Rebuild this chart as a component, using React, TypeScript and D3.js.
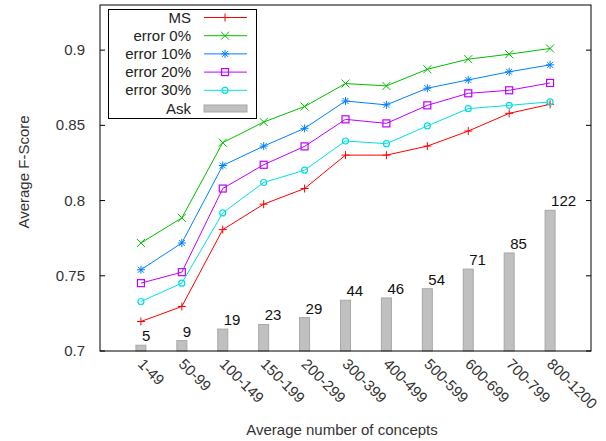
import React from "react";
import { scaleLinear, scalePoint, line } from "d3";

const categories = ["1-49", "50-99", "100-149", "150-199", "200-299", "300-399", "400-499", "500-599", "600-699", "700-799", "800-1200"];
const askCounts = [5, 9, 19, 23, 29, 44, 46, 54, 71, 85, 122];
const ms = [0.7196, 0.7296, 0.7807, 0.7976, 0.808, 0.8302, 0.8302, 0.8362, 0.8462, 0.858, 0.864];
const err0 = [0.7718, 0.7885, 0.8385, 0.8522, 0.8625, 0.8778, 0.8762, 0.8873, 0.894, 0.8973, 0.9011];
const err10 = [0.754, 0.7718, 0.8233, 0.8362, 0.848, 0.8662, 0.8636, 0.8747, 0.8802, 0.8856, 0.8902];
const err20 = [0.7451, 0.7524, 0.808, 0.8238, 0.836, 0.854, 0.8513, 0.8633, 0.8713, 0.8733, 0.8782];
const err30 = [0.7329, 0.7451, 0.7918, 0.812, 0.8202, 0.8396, 0.8378, 0.8496, 0.8611, 0.8633, 0.8656];
const yTicks = [0.7, 0.75, 0.8, 0.85, 0.9];

const series = [
  { name: "MS", values: ms, color: "#ff0000", marker: "plus" },
  { name: "error 0%", values: err0, color: "#00c000", marker: "cross" },
  { name: "error 10%", values: err10, color: "#0080ff", marker: "star" },
  { name: "error 20%", values: err20, color: "#c000ff", marker: "square" },
  { name: "error 30%", values: err30, color: "#00e0e0", marker: "circle" },
];

const font = "'Liberation Sans', Arial, sans-serif";

const Marker = ({ type, x, y, color }) => {
  const s = 4;
  if (type === "plus")
    return (
      <path d={`M${x - s},${y}H${x + s}M${x},${y - s}V${y + s}`} stroke={color} strokeWidth={1} />
    );
  if (type === "cross")
    return (
      <path d={`M${x - s},${y - s}L${x + s},${y + s}M${x - s},${y + s}L${x + s},${y - s}`} stroke={color} strokeWidth={1} />
    );
  if (type === "star")
    return (
      <path
        d={`M${x - s},${y}H${x + s}M${x},${y - s}V${y + s}M${x - 3},${y - 3}L${x + 3},${y + 3}M${x - 3},${y + 3}L${x + 3},${y - 3}`}
        stroke={color}
        strokeWidth={1}
      />
    );
  if (type === "square")
    return <rect x={x - 3.5} y={y - 3.5} width={7} height={7} fill="none" stroke={color} strokeWidth={1.2} />;
  return <circle cx={x} cy={y} r={3} fill="none" stroke={color} strokeWidth={1.2} />;
};

export default function App() {
  const width = 606;
  const height = 441;
  const left = 100;
  const right = 591;
  const top = 5;
  const bottom = 351;

  const x = scalePoint().domain(categories).range([left, right]).padding(1);
  const y = scaleLinear().domain([0.7, 0.93]).range([bottom, top]);
  const yBar = scaleLinear().domain([0, 300]).range([bottom, top]);

  const bars = categories.map((c, i) => (
    <g key={c}>
      <rect
        x={x(c) - 5}
        y={yBar(askCounts[i])}
        width={10}
        height={bottom - yBar(askCounts[i])}
        fill="#c0c0c0"
        stroke="#a8a8a8"
        strokeWidth={1}
      />
      <text x={x(c) + 1} y={yBar(askCounts[i]) - 4} fontSize={15} fill="#111">
        {askCounts[i]}
      </text>
    </g>
  ));

  const lines = series.map((s) => {
    const path = line()
      .x((d, i) => x(categories[i]))
      .y((d) => y(d))(s.values);
    return (
      <g key={s.name}>
        <path d={path} fill="none" stroke={s.color} strokeWidth={1} />
        {s.values.map((v, i) => (
          <Marker key={i} type={s.marker} x={x(categories[i])} y={y(v)} color={s.color} />
        ))}
      </g>
    );
  });

  const legendRows = [...series.map((s) => s.name), "Ask"];

  return (
    <svg width={width} height={height} style={{ position: "absolute", left: 0, top: 0, fontFamily: font }}>
      <rect width={width} height={height} fill="#fff" />
      {bars}
      {lines}
      <rect x={left} y={top} width={right - left} height={bottom - top} fill="none" stroke="#000" strokeWidth={1} />
      {yTicks.map((t) => (
        <g key={t}>
          <line x1={left} x2={left + 5} y1={y(t)} y2={y(t)} stroke="#000" />
          <line x1={right - 5} x2={right} y1={y(t)} y2={y(t)} stroke="#000" />
          <text x={85} y={y(t) + 5} textAnchor="end" fontSize={15} fill="#333">
            {String(Math.round(t * 100) / 100)}
          </text>
        </g>
      ))}
      {categories.map((c) => (
        <text key={c} transform={`translate(${x(c) - 4},${365}) rotate(45)`} fontSize={15} fill="#333">
          {c}
        </text>
      ))}
      <text x={342} y={435} textAnchor="middle" fontSize={15} fill="#333">
        Average number of concepts
      </text>
      <text transform={`translate(29,172) rotate(-90)`} textAnchor="middle" fontSize={15} fill="#333">
        Average F-Score
      </text>
      <g>
        <rect x={108.5} y={9.5} width={148} height={109} fill="#fff" stroke="#000" strokeWidth={1} />
        {legendRows.map((name, i) => {
          const cy = 17.5 + i * 18.2;
          const s = series[i];
          return (
            <g key={name}>
              <text x={191} y={cy + 5} textAnchor="end" fontSize={15} fill="#222">
                {name}
              </text>
              {s ? (
                <>
                  <line x1={204} x2={247} y1={cy} y2={cy} stroke={s.color} strokeWidth={1} />
                  <Marker type={s.marker} x={225} y={cy} color={s.color} />
                </>
              ) : (
                <rect x={204} y={cy - 3.5} width={43} height={7} fill="#c0c0c0" stroke="#a8a8a8" />
              )}
            </g>
          );
        })}
      </g>
    </svg>
  );
}
